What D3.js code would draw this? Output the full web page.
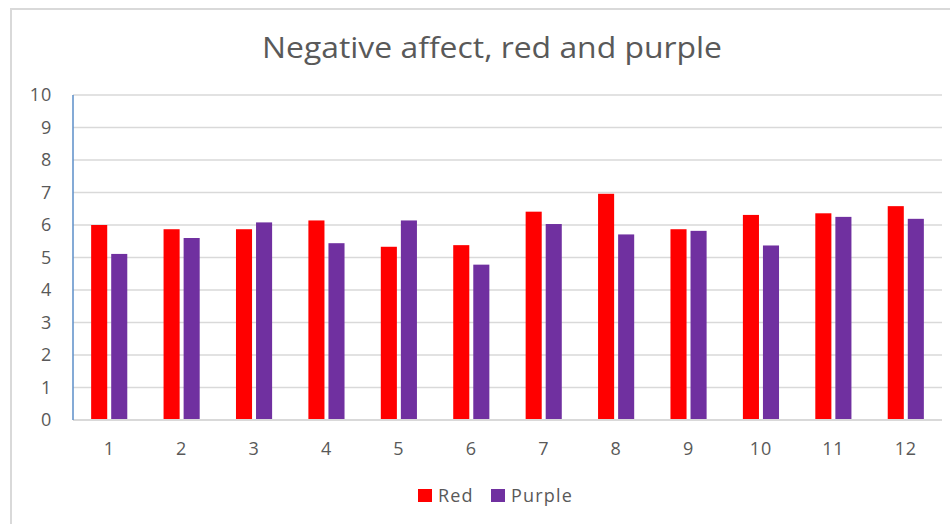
<!DOCTYPE html>
<html>
<head>
<meta charset="utf-8">
<script src="https://cdn.jsdelivr.net/npm/d3@7"></script>
<style>
  html, body { margin: 0; padding: 0; background: #fff; }
  svg { display: block; }
</style>
</head>
<body>
<svg id="chart" width="950" height="524"></svg>
<script>
// Sessions 1–12, mean negative-affect score per colour condition
const categories = ["1", "2", "3", "4", "5", "6", "7", "8", "9", "10", "11", "12"];
const redValues = [6.0, 5.87, 5.87, 6.14, 5.33, 5.38, 6.41, 6.96, 5.87, 6.31, 6.36, 6.58];
const purpleValues = [5.11, 5.6, 6.08, 5.44, 6.14, 4.78, 6.03, 5.71, 5.82, 5.37, 6.25, 6.19];
const yTicks = [0, 1, 2, 3, 4, 5, 6, 7, 8, 9, 10];
const seriesNames = ["Red", "Purple"];
const seriesColors = ["#ff0000", "#7030a0"];

const svg = d3.select("#chart");
const fontFamily = "'Open Sans', 'Noto Sans', sans-serif";
const textColor = "#595959";

// Chart frame (top and left edges visible inside the window)
svg.append("rect")
  .attr("x", 11).attr("y", 9)
  .attr("width", 960).attr("height", 540)
  .attr("fill", "#fff")
  .attr("stroke", "#d9d9d9").attr("stroke-width", 2);

const plot = { left: 73, right: 942, top: 95, bottom: 420 };

const x = d3.scaleBand()
  .domain(categories)
  .range([plot.left, plot.right]);

const y = d3.scaleLinear()
  .domain([0, 10])
  .range([plot.bottom, plot.top]);

// Horizontal gridlines
svg.append("g")
  .selectAll("line")
  .data(yTicks.filter(d => d > 0))
  .join("line")
  .attr("x1", plot.left).attr("x2", plot.right)
  .attr("y1", d => y(d)).attr("y2", d => y(d))
  .attr("stroke", "#d9d9d9").attr("stroke-width", 1.5);

// Bars: two series side by side in each category
const barW = x.bandwidth() * 0.222;
const barGap = x.bandwidth() * 0.055;
const series = [redValues, purpleValues];

series.forEach((vals, si) => {
  const offset = si === 0 ? -(barGap / 2 + barW) : barGap / 2;
  svg.append("g")
    .selectAll("rect")
    .data(vals)
    .join("rect")
    .attr("x", (d, i) => x(categories[i]) + x.bandwidth() / 2 + offset)
    .attr("y", d => y(d))
    .attr("width", barW)
    .attr("height", d => y(0) - y(d))
    .attr("fill", seriesColors[si]);
});

// Category axis baseline
svg.append("line")
  .attr("x1", plot.left).attr("x2", plot.right)
  .attr("y1", y(0)).attr("y2", y(0))
  .attr("stroke", "#d9d9d9").attr("stroke-width", 2);

// Value axis line
svg.append("line")
  .attr("x1", plot.left).attr("x2", plot.left)
  .attr("y1", plot.top).attr("y2", plot.bottom)
  .attr("stroke", "#5b8ec9").attr("stroke-width", 1.5);

// Value axis labels
const yAxis = d3.axisLeft(y).tickValues(yTicks).tickSize(0).tickPadding(0);
const gy = svg.append("g")
  .attr("transform", `translate(${plot.left - 21},0)`)
  .call(yAxis);
gy.select(".domain").remove();
gy.selectAll("text")
  .attr("fill", textColor)
  .attr("font-family", fontFamily)
  .attr("font-size", 18)
  .attr("letter-spacing", "0.8px");

// Category axis labels
const xAxis = d3.axisBottom(x).tickSize(0).tickPadding(0);
const gx = svg.append("g")
  .attr("transform", `translate(0,${plot.bottom + 22})`)
  .call(xAxis);
gx.select(".domain").remove();
gx.selectAll("text")
  .attr("fill", textColor)
  .attr("font-family", fontFamily)
  .attr("font-size", 18)
  .attr("letter-spacing", "0.8px");
gy.attr("font-size", 18).attr("font-family", fontFamily);
gx.attr("font-size", 18).attr("font-family", fontFamily);

// Title
svg.append("text")
  .attr("x", 492).attr("y", 58)
  .attr("text-anchor", "middle")
  .attr("fill", textColor)
  .style("font-family", fontFamily)
  .style("font-size", "30px")
  .attr("textLength", 460)
  .attr("lengthAdjust", "spacingAndGlyphs")
  .text("Negative affect, red and purple");

// Legend
const legendItems = [
  { name: seriesNames[0], color: seriesColors[0], x: 418 },
  { name: seriesNames[1], color: seriesColors[1], x: 491 }
];
const lg = svg.append("g");
legendItems.forEach(it => {
  lg.append("rect")
    .attr("x", it.x).attr("y", 489)
    .attr("width", 14).attr("height", 13)
    .attr("fill", it.color);
  lg.append("text")
    .attr("x", it.x + 20).attr("y", 502)
    .attr("fill", textColor)
    .style("font-family", fontFamily)
    .style("font-size", "18px")
    .style("letter-spacing", "1.2px")
    .text(it.name);
});
</script>
</body>
</html>
